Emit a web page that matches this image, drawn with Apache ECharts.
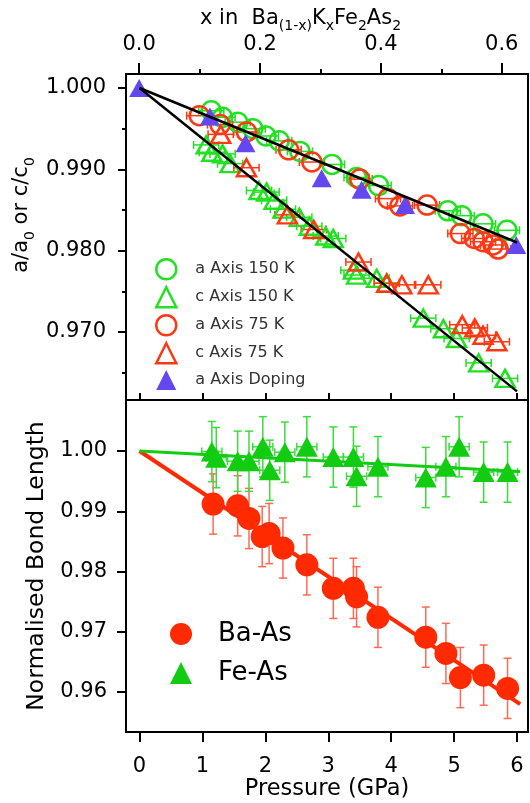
<!DOCTYPE html>
<html><head><meta charset="utf-8">
<script src="https://cdn.jsdelivr.net/npm/echarts@6/dist/echarts.min.js"></script>
<style>html,body{margin:0;padding:0;background:#fff}#c{width:530px;height:803px}</style>
</head><body><div id="c"></div>
<script>
// ---------- data ----------
// top panel: lattice parameters vs pressure (GPa)
const a150_P = [1.14, 1.32, 1.56, 1.80, 2.01, 2.22, 2.55, 3.06, 3.45, 3.80, 4.90, 5.12, 5.46, 5.84];
const a150_r = [0.9972, 0.9964, 0.9958, 0.9950, 0.9941, 0.9935, 0.9922, 0.9906, 0.9890, 0.9880, 0.9849, 0.9843, 0.9833, 0.9825];
const c150_P = [1.06, 1.15, 1.32, 1.44, 1.90, 2.02, 2.14, 2.28, 2.54, 2.70, 2.96, 3.08, 3.40, 3.45, 3.77, 3.93, 4.51, 4.83, 5.04, 5.39, 5.81];
const c150_r = [0.9930, 0.9921, 0.9919, 0.9907, 0.9874, 0.9872, 0.9862, 0.9851, 0.9841, 0.9830, 0.9818, 0.9815, 0.9776, 0.9770, 0.9766, 0.9760, 0.9717, 0.9704, 0.9692, 0.9662, 0.9643];
const a75_P = [0.95, 1.28, 1.70, 2.37, 2.74, 3.50, 3.95, 4.14, 4.57, 5.10, 5.32, 5.46, 5.62, 5.70];
const a75_r = [0.9966, 0.9955, 0.9946, 0.9924, 0.9909, 0.9888, 0.9864, 0.9855, 0.9856, 0.9821, 0.9815, 0.9811, 0.9807, 0.9802];
const c75_P = [1.29, 1.70, 2.35, 2.77, 3.48, 3.93, 4.17, 4.59, 5.13, 5.33, 5.46, 5.68];
const c75_r = [0.9943, 0.9902, 0.9844, 0.9826, 0.9786, 0.9760, 0.9758, 0.9758, 0.9709, 0.9705, 0.9696, 0.9688];
const pressErrTop = 0.2;
// a axis vs doping x in Ba(1-x)KxFe2As2
const doping_x = [0.0, 0.117, 0.176, 0.302, 0.368, 0.440, 0.624];
const doping_r = [1.0000, 0.9965, 0.9932, 0.9889, 0.9875, 0.9856, 0.9807];
// linear fits (top)
const fitA_P = [0, 6.0], fitA_r = [1.000, 0.9810];
const fitC_P = [0, 6.0], fitC_r = [1.000, 0.9627];

// bottom panel: normalised bond lengths
const baAs_P = [1.17, 1.56, 1.74, 1.95, 2.06, 2.28, 2.66, 3.08, 3.40, 3.45, 3.79, 4.55, 4.87, 5.10, 5.47, 5.85];
const baAs_r = [0.9912, 0.9909, 0.9888, 0.9858, 0.9863, 0.9839, 0.9811, 0.9772, 0.9772, 0.9758, 0.9724, 0.9691, 0.9664, 0.9624, 0.9628, 0.9606];
const feAs_P = [1.15, 1.22, 1.56, 1.74, 1.96, 2.07, 2.31, 2.66, 3.08, 3.40, 3.45, 3.79, 4.55, 4.87, 5.08, 5.47, 5.85];
const feAs_r = [0.9999, 0.9989, 0.9983, 0.9983, 1.0007, 0.9968, 0.9998, 1.0007, 0.9990, 0.9990, 0.9958, 0.9974, 0.9956, 0.9974, 1.0007, 0.9965, 0.9965];
const bondErr = 0.005, feAsPErr = 0.16;
const fitBa_P = [0, 6.05], fitBa_r = [1.000, 0.9580];
const fitFe_P = [0, 6.05], fitFe_r = [1.000, 0.9966];

// ticks
const pressureTicks = [0, 1, 2, 3, 4, 5, 6];
const dopingTicks = [0.0, 0.2, 0.4, 0.6];
const dopingMinor = [0.1, 0.3, 0.5];
const topYTicks = [0.970, 0.980, 0.990, 1.000];
const topYMinor = [0.965, 0.975, 0.985, 0.995];
const botYTicks = [0.96, 0.97, 0.98, 0.99, 1.00];

// ---------- styling ----------
const F = 'DejaVu Sans';
const G1 = '#22e022', R1 = '#ff3814', PU = '#6447f0';
const G2 = '#12cc12', G2e = '#3cdc3c', R2 = '#ff2a00', R2e = '#ff6a55';
const P_MIN = -0.2146, P_MAX = 6.1748;
const X_MIN = -0.0218, X_MAX = 0.6434;
const Y1_MIN = 0.961639, Y1_MAX = 1.001721;
const Y2_MIN = 0.953361, Y2_MAX = 1.008465;

const zip = (a, b) => a.map((v, i) => [v, b[i]]);
const frame = {show: true, onZero: false, lineStyle: {color: '#000', width: 2}};
const noLine = {show: false, onZero: false};
const noSplit = {show: false};
const tickStyle = {color: '#000', width: 2};

function errorBars(xs, ys, dx, dy, color, xi, yi, lw, cap) {
  return {
    type: 'custom', xAxisIndex: xi, yAxisIndex: yi, silent: true, z: 1,
    data: zip(xs, ys), encode: {x: 0, y: 1},
    renderItem(params, api) {
      const x = api.value(0), y = api.value(1);
      const c = api.coord([x, y]);
      const st = {stroke: color, lineWidth: lw};
      const seg = (x1, y1, x2, y2) => ({type: 'line', shape: {x1, y1, x2, y2}, style: st});
      const kids = [];
      if (dy) {
        const t = api.coord([x, y + dy]), b = api.coord([x, y - dy]);
        kids.push(seg(c[0], t[1], c[0], b[1]), seg(c[0] - cap, t[1], c[0] + cap, t[1]), seg(c[0] - cap, b[1], c[0] + cap, b[1]));
      }
      if (dx) {
        const l = api.coord([x - dx, y]), r = api.coord([x + dx, y]);
        kids.push(seg(l[0], c[1], r[0], c[1]), seg(l[0], c[1] - cap, l[0], c[1] + cap), seg(r[0], c[1] - cap, r[0], c[1] + cap));
      }
      return {type: 'group', children: kids};
    }
  };
}
function hollow(name, xs, ys, symbol, size, color) {
  return {name, type: 'scatter', xAxisIndex: 0, yAxisIndex: 0, data: zip(xs, ys), symbol, symbolSize: size, z: 3,
    itemStyle: {color: 'rgba(255,255,255,0)', borderColor: color, borderWidth: 2.5, opacity: 1}};
}

const chart = echarts.init(document.getElementById('c'));
chart.setOption({
  animation: false,
  backgroundColor: '#fff',
  grid: [
    {left: 126, top: 74, width: 402, height: 326},
    {left: 126, top: 400, width: 402, height: 332}
  ],
  xAxis: [
    {gridIndex: 0, type: 'value', position: 'bottom', min: P_MIN, max: P_MAX, axisLine: frame, axisTick: {show: false}, axisLabel: {show: false}, splitLine: noSplit},
    {gridIndex: 0, type: 'value', position: 'top', min: X_MIN, max: X_MAX, axisLine: frame,
      axisTick: {show: true, length: 11, lineStyle: tickStyle, customValues: dopingTicks},
      axisLabel: {show: true, customValues: dopingTicks, formatter: v => v.toFixed(1), margin: 19, fontFamily: F, fontSize: 21, color: '#000'},
      splitLine: noSplit},
    {gridIndex: 0, type: 'value', position: 'top', min: X_MIN, max: X_MAX, axisLine: noLine,
      axisTick: {show: true, length: 5, lineStyle: tickStyle, customValues: dopingMinor}, axisLabel: {show: false}, splitLine: noSplit},
    {gridIndex: 1, type: 'value', position: 'bottom', min: P_MIN, max: P_MAX, axisLine: frame,
      axisTick: {show: true, length: 10, lineStyle: tickStyle, customValues: pressureTicks},
      axisLabel: {show: true, customValues: pressureTicks, margin: 24, fontFamily: F, fontSize: 21, color: '#000'},
      name: 'Pressure (GPa)', nameLocation: 'middle', nameGap: 45, nameTextStyle: {fontFamily: F, fontSize: 22.5, color: '#000'},
      splitLine: noSplit},
    {gridIndex: 1, type: 'value', position: 'top', min: P_MIN, max: P_MAX, axisLine: frame,
      axisTick: {show: true, length: 7, lineStyle: tickStyle, customValues: pressureTicks}, axisLabel: {show: false}, splitLine: noSplit}
  ],
  yAxis: [
    {gridIndex: 0, type: 'value', position: 'left', min: Y1_MIN, max: Y1_MAX, axisLine: frame,
      axisTick: {show: true, length: 8, lineStyle: tickStyle, customValues: topYTicks},
      axisLabel: {show: true, customValues: topYTicks, formatter: v => v.toFixed(3), margin: 20, fontFamily: F, fontSize: 21, color: '#000'},
      splitLine: noSplit},
    {gridIndex: 0, type: 'value', position: 'left', min: Y1_MIN, max: Y1_MAX, axisLine: noLine,
      axisTick: {show: true, length: 4, lineStyle: tickStyle, customValues: topYMinor}, axisLabel: {show: false}, splitLine: noSplit},
    {gridIndex: 0, type: 'value', position: 'right', min: Y1_MIN, max: Y1_MAX, axisLine: frame, axisTick: {show: false}, axisLabel: {show: false}, splitLine: noSplit},
    {gridIndex: 1, type: 'value', position: 'left', min: Y2_MIN, max: Y2_MAX, axisLine: frame,
      axisTick: {show: true, length: 9, lineStyle: tickStyle, customValues: botYTicks},
      axisLabel: {show: true, customValues: botYTicks, formatter: v => v.toFixed(2), margin: 19, fontFamily: F, fontSize: 21, color: '#000'},
      name: 'Normalised Bond Length', nameLocation: 'middle', nameRotate: 90, nameGap: 70,
      nameTextStyle: {fontFamily: F, fontSize: 23.5, color: '#000'},
      splitLine: noSplit},
    {gridIndex: 1, type: 'value', position: 'right', min: Y2_MIN, max: Y2_MAX, axisLine: frame, axisTick: {show: false}, axisLabel: {show: false}, splitLine: noSplit}
  ],
  legend: [
    {left: 150, top: 253, orient: 'vertical', itemWidth: 20, itemHeight: 20, itemGap: 5.5, selectedMode: false,
      textStyle: {fontFamily: F, fontSize: 16, color: '#333', padding: [0, 0, 0, 14]},
      data: [
        {name: 'a Axis 150 K', icon: 'circle', itemStyle: {color: 'rgba(255,255,255,0)', borderColor: G1, borderWidth: 2.5}},
        {name: 'c Axis 150 K', icon: 'triangle', itemStyle: {color: 'rgba(255,255,255,0)', borderColor: G1, borderWidth: 2.5}},
        {name: 'a Axis 75 K', icon: 'circle', itemStyle: {color: 'rgba(255,255,255,0)', borderColor: R1, borderWidth: 2.5}},
        {name: 'c Axis 75 K', icon: 'triangle', itemStyle: {color: 'rgba(255,255,255,0)', borderColor: R1, borderWidth: 2.5}},
        {name: 'a Axis Doping', icon: 'triangle', itemStyle: {color: PU, borderWidth: 0, opacity: 1}}
      ]},
    {left: 165, top: 616, orient: 'vertical', itemWidth: 22, itemHeight: 22, itemGap: 13, selectedMode: false,
      textStyle: {fontFamily: F, fontSize: 26, color: '#000', padding: [0, 0, 0, 21]},
      data: [
        {name: 'Ba-As', icon: 'circle', itemStyle: {color: R2, borderWidth: 0, opacity: 1}},
        {name: 'Fe-As', icon: 'triangle', itemStyle: {color: G2, borderWidth: 0, opacity: 1}}
      ]}
  ],
  graphic: [
    {type: 'text', left: 200, top: 8, silent: true,
      style: {text: '{m|x in  Ba}{s|(1-x)}{m|K}{s|x}{m|Fe}{s|2}{m|As}{s|2}',
        rich: {m: {fontFamily: F, fontSize: 21, lineHeight: 30, fill: '#000'},
               s: {fontFamily: F, fontSize: 14, lineHeight: 12, verticalAlign: 'bottom', fill: '#000'}}}},
    {type: 'text', x: 22, y: 215, rotation: Math.PI / 2, silent: true,
      style: {text: '{m|a/a}{s|0}{m| or c/c}{s|0}', align: 'center', verticalAlign: 'middle', textAlign: 'center', textVerticalAlign: 'middle',
        rich: {m: {fontFamily: F, fontSize: 21, lineHeight: 30, fill: '#000'},
               s: {fontFamily: F, fontSize: 14, lineHeight: 12, verticalAlign: 'bottom', fill: '#000'}}}}
  ],
  series: [
    // top panel
    errorBars(a150_P, a150_r, pressErrTop, 0, G1, 0, 0, 1.5, 4),
    errorBars(c150_P, c150_r, pressErrTop, 0, G1, 0, 0, 1.5, 4),
    errorBars(a75_P, a75_r, pressErrTop, 0, R1, 0, 0, 1.5, 4),
    errorBars(c75_P, c75_r, pressErrTop, 0, R1, 0, 0, 1.5, 4),
    hollow('a Axis 150 K', a150_P, a150_r, 'circle', 19, G1),
    hollow('c Axis 150 K', c150_P, c150_r, 'triangle', [19, 17], G1),
    hollow('a Axis 75 K', a75_P, a75_r, 'circle', 19, R1),
    hollow('c Axis 75 K', c75_P, c75_r, 'triangle', [19, 17], R1),
    {name: 'a Axis Doping', type: 'scatter', xAxisIndex: 1, yAxisIndex: 0, data: zip(doping_x, doping_r), symbol: 'triangle', symbolSize: [20, 18], z: 3.5, itemStyle: {color: PU, opacity: 1}},
    {type: 'line', xAxisIndex: 0, yAxisIndex: 0, data: zip(fitA_P, fitA_r), symbol: 'none', silent: true, z: 4, lineStyle: {color: '#000', width: 2.5}},
    {type: 'line', xAxisIndex: 0, yAxisIndex: 0, data: zip(fitC_P, fitC_r), symbol: 'none', silent: true, z: 4, lineStyle: {color: '#000', width: 2.5}},
    // bottom panel
    {type: 'line', xAxisIndex: 3, yAxisIndex: 3, data: zip(fitBa_P, fitBa_r), symbol: 'none', silent: true, z: 1.5, lineStyle: {color: R2, width: 4}},
    {type: 'line', xAxisIndex: 3, yAxisIndex: 3, data: zip(fitFe_P, fitFe_r), symbol: 'none', silent: true, z: 1.5, lineStyle: {color: G2, width: 3}},
    errorBars(baAs_P, baAs_r, 0, bondErr, R2e, 3, 3, 1.5, 4),
    errorBars(feAs_P, feAs_r, 0, bondErr, G2e, 3, 3, 1.5, 4),
    errorBars(feAs_P, feAs_r, feAsPErr, 0, G2e, 3, 3, 1.5, 4),
    {name: 'Ba-As', type: 'scatter', xAxisIndex: 3, yAxisIndex: 3, data: zip(baAs_P, baAs_r), symbol: 'circle', symbolSize: 23, z: 3, itemStyle: {color: R2, opacity: 1}},
    {name: 'Fe-As', type: 'scatter', xAxisIndex: 3, yAxisIndex: 3, data: zip(feAs_P, feAs_r), symbol: 'triangle', symbolSize: [22, 20], z: 3, itemStyle: {color: G2, opacity: 1}}
  ]
});
</script></body></html>
